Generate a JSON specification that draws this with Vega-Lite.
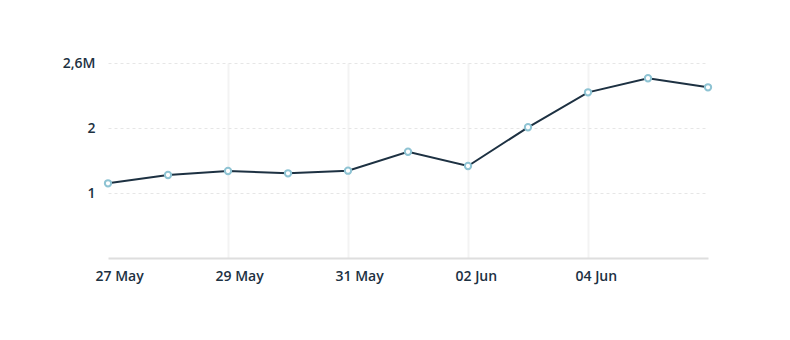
{
  "$schema": "https://vega.github.io/schema/vega-lite/v6.json",
  "width": 600,
  "height": 195,
  "autosize": {"type": "none"},
  "padding": {"left": 108, "top": 63, "right": 82, "bottom": 82},
  "background": "white",
  "config": {
    "view": {"stroke": null},
    "font": "Open Sans"
  },
  "data": {
    "values": [
      {"date": "2024-05-27", "value": 1.149},
      {"date": "2024-05-28", "value": 1.277},
      {"date": "2024-05-29", "value": 1.338},
      {"date": "2024-05-30", "value": 1.303},
      {"date": "2024-05-31", "value": 1.343},
      {"date": "2024-06-01", "value": 1.635},
      {"date": "2024-06-02", "value": 1.415},
      {"date": "2024-06-03", "value": 2.011},
      {"date": "2024-06-04", "value": 2.549},
      {"date": "2024-06-05", "value": 2.765},
      {"date": "2024-06-06", "value": 2.626}
    ]
  },
  "encoding": {
    "x": {
      "field": "date",
      "type": "temporal",
      "scale": {"type": "utc", "nice": false},
      "axis": {
        "title": null,
        "values": [
          {"year": 2024, "month": 5, "date": 27, "utc": true},
          {"year": 2024, "month": 5, "date": 29, "utc": true},
          {"year": 2024, "month": 5, "date": 31, "utc": true},
          {"year": 2024, "month": 6, "date": 2, "utc": true},
          {"year": 2024, "month": 6, "date": 4, "utc": true}
        ],
        "labelExpr": "utcFormat(datum.value, '%d %b')",
        "labelAlign": "left",
        "labelOffset": -13,
        "labelPadding": 11,
        "labelFontSize": 14,
        "labelFontWeight": 600,
        "labelColor": "#1d3142",
        "ticks": false,
        "domain": true,
        "domainColor": "#dedede",
        "domainWidth": 2,
        "grid": true,
        "gridColor": "#f3f3f3",
        "gridWidth": 2,
        "gridOpacity": {"condition": {"test": "datum.index == 0", "value": 0}, "value": 1}
      }
    },
    "y": {
      "field": "value",
      "type": "quantitative",
      "scale": {"domain": [0, 3], "nice": false, "zero": true},
      "axis": {
        "title": null,
        "values": [1, 2, 3],
        "labelExpr": "datum.value == 3 ? '2,6M' : datum.value",
        "labelPadding": 13,
        "labelFontSize": 14,
        "labelFontWeight": 600,
        "labelColor": "#1d3142",
        "ticks": false,
        "domain": false,
        "grid": true,
        "gridColor": "#e6e6e6",
        "gridDash": [3, 3],
        "gridWidth": 1
      }
    }
  },
  "layer": [
    {
      "mark": {"type": "line", "color": "#1d3142", "strokeWidth": 2}
    },
    {
      "mark": {"type": "point", "filled": true, "fill": "white", "stroke": "#8ec3d3", "strokeWidth": 2, "size": 40, "opacity": 1}
    }
  ]
}
